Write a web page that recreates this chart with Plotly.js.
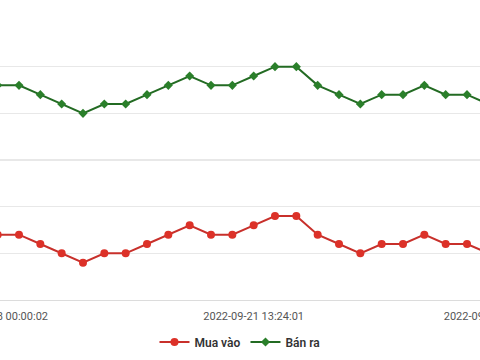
<!DOCTYPE html>
<html>
<head>
<meta charset="utf-8">
<script src="https://cdn.plot.ly/plotly-3.0.1.min.js"></script>
<style>
  html, body { margin: 0; padding: 0; width: 480px; height: 360px; overflow: hidden; background: #fff; }
  #wrap { position: relative; width: 480px; height: 360px; overflow: hidden; }
  #chart { position: absolute; left: -100px; top: 0; width: 700px; height: 360px; }
</style>
</head>
<body>
<div id="wrap"><div id="chart"></div></div>
<script>
// Gold price (nghìn đồng/lượng), one value per sample
const pointIndex = [0,1,2,3,4,5,6,7,8,9,10,11,12,13,14,15,16,17,18,19,20,21,22,23];
const muaVao = [65950,65950,65900,65850,65800,65850,65850,65900,65950,66000,65950,65950,
                66000,66050,66050,65950,65900,65850,65900,65900,65950,65900,65900,65850];
const banRa  = [66750,66750,66700,66650,66600,66650,66650,66700,66750,66800,66750,66750,
                66800,66850,66850,66750,66700,66650,66700,66700,66750,66700,66700,66650];
const tickLabels = ["2022-09-18 00:00:02", "2022-09-21 13:24:01", "2022-09-25 02:48:00"];
const tickAt = [0, 12, 23.27];

const traces = [
  {
    x: pointIndex, y: muaVao, name: "Mua vào", type: "scatter", mode: "lines+markers",
    line: { color: "#c8302b", width: 2 },
    marker: { color: "#dc3128", size: 8, symbol: "circle" }
  },
  {
    x: pointIndex, y: banRa, name: "Bán ra", type: "scatter", mode: "lines+markers",
    line: { color: "#236b23", width: 2 },
    marker: { color: "#2a7f2a", size: 7, symbol: "diamond" }
  }
];

const layout = {
  width: 700, height: 360,
  margin: { l: 0, r: 0, t: 20, b: 60 },
  paper_bgcolor: "#ffffff", plot_bgcolor: "#ffffff",
  font: { family: "Roboto, 'Open Sans', sans-serif", color: "#555" },
  showlegend: true,
  legend: {
    orientation: "h", x: 0.4857, xanchor: "center", y: -0.15, yanchor: "middle",
    font: { size: 12, color: "#333", weight: 600 }, itemwidth: 30
  },
  xaxis: {
    range: [-4.578, 28.234], showgrid: false, zeroline: false,
    showline: true, linecolor: "#dcdcdc", linewidth: 1,
    tickmode: "array", tickvals: tickAt, ticktext: tickLabels,
    ticks: "", tickfont: { size: 11, color: "#555" }, ticklabelstandoff: 6
  },
  yaxis: {
    range: [65600, 67100], tick0: 65600, dtick: 250,
    showgrid: true, gridcolor: "#e8e8e8", gridwidth: 1.5,
    zeroline: false, showticklabels: false, ticks: "", showline: false
  }
};

Plotly.newPlot("chart", traces, layout, { displayModeBar: false, staticPlot: true });
</script>
</body>
</html>
